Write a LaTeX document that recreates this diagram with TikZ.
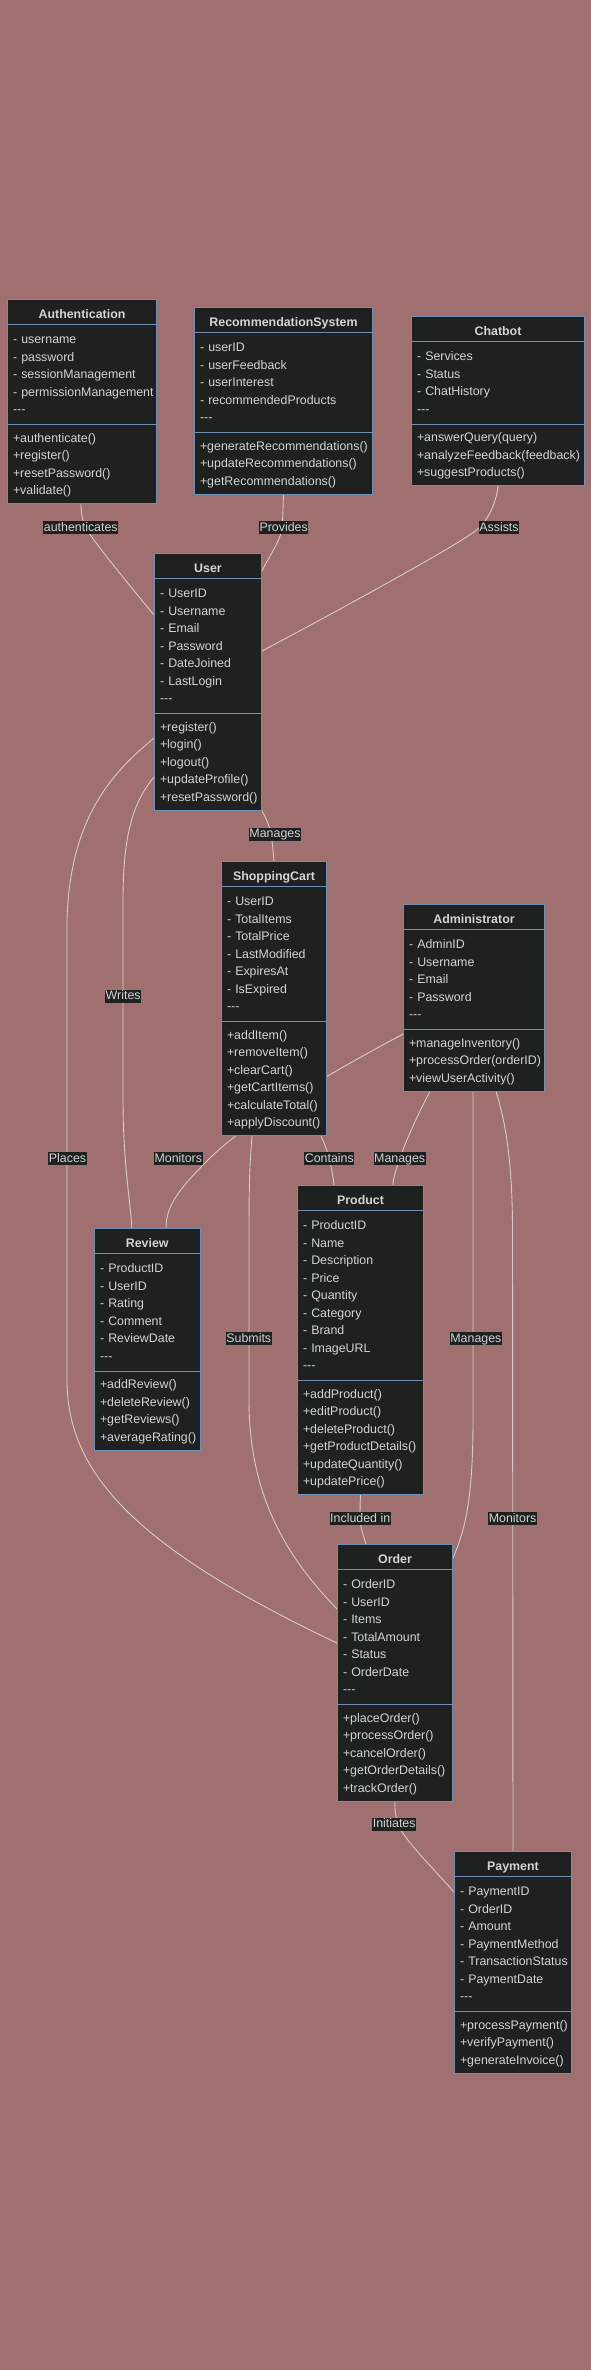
\documentclass[tikz,border=0pt]{standalone}
\usepackage{fontspec}
\setmainfont{Liberation Sans}
\usetikzlibrary{shapes.multipart,calc}
\definecolor{bgcol}{HTML}{9F706F}
\definecolor{boxfill}{HTML}{1F2020}
\definecolor{boxline}{HTML}{6E90B4}
\definecolor{txtcol}{HTML}{D4D4D4}
\definecolor{wirecol}{HTML}{D9CACA}
\pgfdeclarelayer{canvas}
\pgfdeclarelayer{wires}
\pgfsetlayers{canvas,wires,main}
\newcommand{\classfont}{\fontsize{12.4}{17.5}\selectfont\hyphenpenalty=10000\exhyphenpenalty=10000\relax}
\newcommand{\headline}[1]{\makebox[\linewidth]{\rule[-2.5pt]{0pt}{17.5pt}\textbf{#1}}}
\newcommand{\fieldgap}{\rule{0pt}{16.25pt}}
\newcommand{\opgap}{\rule{0pt}{14.25pt}}
\newcommand{\closefields}{-{}-{}-\rule[-7.25pt]{0pt}{1pt}}
\newcommand{\closeops}{\rule[-5.25pt]{0pt}{1pt}}

\begin{document}
\begin{tikzpicture}[x=1pt,y=-1pt,
    umlclass/.style={rectangle split, rectangle split parts=3, draw=boxline, line width=1pt, fill=boxfill, text=txtcol, font=\classfont, align=left, anchor=north west, inner xsep=5.5pt, inner ysep=3pt},
    wire/.style={draw=wirecol, line width=0.9pt},
    wirelabel/.style={fill=boxfill, text=txtcol, font=\classfont, inner xsep=0.5pt, inner ysep=0.5pt, text height=9.5pt, text depth=2.5pt}]
    \useasboundingbox (0,0) rectangle (591,2370);
    \begin{pgfonlayer}{canvas}
        \fill[bgcol] (0,0) rectangle (591,2370);
    \end{pgfonlayer}

    \node[umlclass, text width=138pt] (auth) at (7,299) {\headline{Authentication}\nodepart{two}\fieldgap-~username\\-~password\\-~sessionManagement\\-~permissionManagement\\\closefields\nodepart{three}\opgap+authenticate()\\+register()\\+resetPassword()\\+validate()\closeops};
    \node[umlclass, text width=167pt] (rec) at (194,307) {\headline{RecommendationSystem}\nodepart{two}\fieldgap-~userID\\-~userFeedback\\-~userInterest\\-~recommendedProducts\\\closefields\nodepart{three}\opgap+generateRecommendations()\\+updateRecommendations()\\+getRecommendations()\closeops};
    \node[umlclass, text width=162pt] (chat) at (411,316) {\headline{Chatbot}\nodepart{two}\fieldgap-~Services\\-~Status\\-~ChatHistory\\\closefields\nodepart{three}\opgap+answerQuery(query)\\+analyzeFeedback(feedback)\\+suggestProducts()\closeops};
    \node[umlclass, text width=96pt] (user) at (154,553) {\headline{User}\nodepart{two}\fieldgap-~UserID\\-~Username\\-~Email\\-~Password\\-~DateJoined\\-~LastLogin\\\closefields\nodepart{three}\opgap+register()\\+login()\\+logout()\\+updateProfile()\\+resetPassword()\closeops};
    \node[umlclass, text width=94pt] (cart) at (221,861) {\headline{ShoppingCart}\nodepart{two}\fieldgap-~UserID\\-~TotalItems\\-~TotalPrice\\-~LastModified\\-~ExpiresAt\\-~IsExpired\\\closefields\nodepart{three}\opgap+addItem()\\+removeItem()\\+clearCart()\\+getCartItems()\\+calculateTotal()\\+applyDiscount()\closeops};
    \node[umlclass, text width=130pt] (admin) at (403,904) {\headline{Administrator}\nodepart{two}\fieldgap-~AdminID\\-~Username\\-~Email\\-~Password\\\closefields\nodepart{three}\opgap+manageInventory()\\+processOrder(orderID)\\+viewUserActivity()\closeops};
    \node[umlclass, text width=94.5pt] (review) at (94,1228) {\headline{Review}\nodepart{two}\fieldgap-~ProductID\\-~UserID\\-~Rating\\-~Comment\\-~ReviewDate\\\closefields\nodepart{three}\opgap+addReview()\\+deleteReview()\\+getReviews()\\+averageRating()\closeops};
    \node[umlclass, text width=115pt] (product) at (297,1185) {\headline{Product}\nodepart{two}\fieldgap-~ProductID\\-~Name\\-~Description\\-~Price\\-~Quantity\\-~Category\\-~Brand\\-~ImageURL\\\closefields\nodepart{three}\opgap+addProduct()\\+editProduct()\\+deleteProduct()\\+getProductDetails()\\+updateQuantity()\\+updatePrice()\closeops};
    \node[umlclass, text width=104pt] (order) at (337,1544) {\headline{Order}\nodepart{two}\fieldgap-~OrderID\\-~UserID\\-~Items\\-~TotalAmount\\-~Status\\-~OrderDate\\\closefields\nodepart{three}\opgap+placeOrder()\\+processOrder()\\+cancelOrder()\\+getOrderDetails()\\+trackOrder()\closeops};
    \node[umlclass, text width=106pt] (payment) at (454,1851) {\headline{Payment}\nodepart{two}\fieldgap-~PaymentID\\-~OrderID\\-~Amount\\-~PaymentMethod\\-~TransactionStatus\\-~PaymentDate\\\closefields\nodepart{three}\opgap+processPayment()\\+verifyPayment()\\+generateInvoice()\closeops};

    \node[wirelabel] (lauth) at (80.8,527.7) {authenticates};
    \node[wirelabel] (lprov) at (283.7,527.7) {Provides};
    \node[wirelabel] (lassist) at (499,527.7) {Assists};
    \node[wirelabel] (lmancart) at (275,834.3) {Manages};
    \node[wirelabel] (lwrites) at (123.2,996) {Writes};
    \node[wirelabel] (lplaces) at (67.5,1158.7) {Places};
    \node[wirelabel] (lmonrev) at (178.3,1158.7) {Monitors};
    \node[wirelabel] (lcontains) at (329.3,1158.7) {Contains};
    \node[wirelabel] (lmanprod) at (399.7,1158.7) {Manages};
    \node[wirelabel] (lsubmits) at (248.8,1338.7) {Submits};
    \node[wirelabel] (lmanorder) at (475.9,1338.7) {Manages};
    \node[wirelabel] (lincl) at (360.2,1518.7) {Included in};
    \node[wirelabel] (lmonpay) at (512.6,1518.7) {Monitors};
    \node[wirelabel] (linit) at (394.2,1824.3) {Initiates};

    \begin{pgfonlayer}{wires}
        \draw[wire] ($(auth.south west)+(74,0)$) .. controls (81,512) and (82,520) .. (86,528) .. controls (92,540) and (135,592) .. ($(user.north west)+(0,62)$);
        \draw[wire] (rec.south) .. controls (283,505) and (283,518) .. (282,528) .. controls (281,540) and (268,558) .. ($(user.north east)+(0,18)$);
        \draw[wire] (chat.south) .. controls (497,498) and (491,516) .. (479,528) .. controls (466,541) and (330,615) .. ($(user.north east)+(0,98)$);
        \draw[wire] (user.south east) .. controls (264,815) and (269,823) .. (271,834) .. controls (273,846) and (273,852) .. (cart.north);
        \draw[wire] ($(user.north west)+(0,185)$) .. controls (114.5,771) and (70,815) .. (67,920) -- (67,1380) .. controls (67,1470) and (130,1545) .. ($(order.north west)+(0,99)$);
        \draw[wire] ($(user.north west)+(0,224)$) .. controls (135,800) and (123,830) .. (123,900) -- (123,1100) .. controls (123,1160) and (130,1200) .. ($(review.north west)+(38,0)$);
        \draw[wire] ($(admin.north west)+(0,130)$) .. controls (340,1068) and (250,1118) .. (209,1159) .. controls (180,1188) and (166,1205) .. ($(review.north west)+(72,0)$);
        \draw[wire] ($(cart.south west)+(31,0)$) .. controls (249,1170) and (249,1200) .. (249,1250) -- (249,1400) .. controls (249,1500) and (290,1560) .. ($(order.north west)+(0,65)$);
        \draw[wire] ($(cart.south west)+(100,0)$) .. controls (324,1142) and (327,1150) .. (329,1158) .. controls (331,1166) and (333,1175) .. ($(product.north west)+(37,0)$);
        \draw[wire] ($(admin.south west)+(27,0)$) .. controls (420,1110) and (406,1140) .. (400,1158) .. controls (396,1170) and (393,1178) .. ($(product.north west)+(96,0)$);
        \draw[wire] ($(admin.south west)+(70,0)$) -- (473,1420) .. controls (473,1500) and (465,1530) .. ($(order.north east)+(0,14)$);
        \draw[wire] ($(admin.south west)+(93,0)$) .. controls (505,1120) and (512.5,1160) .. (512.5,1230) -- (payment.north);
        \draw[wire] (product.south) .. controls (360,1505) and (360,1512) .. (360,1519) .. controls (361,1530) and (364,1537) .. ($(order.north west)+(29,0)$);
        \draw[wire] (order.south) .. controls (394.5,1810) and (396,1818) .. (398,1825) .. controls (405,1840) and (430,1865) .. ($(payment.north west)+(0,41)$);
    \end{pgfonlayer}
\end{tikzpicture}
\end{document}
